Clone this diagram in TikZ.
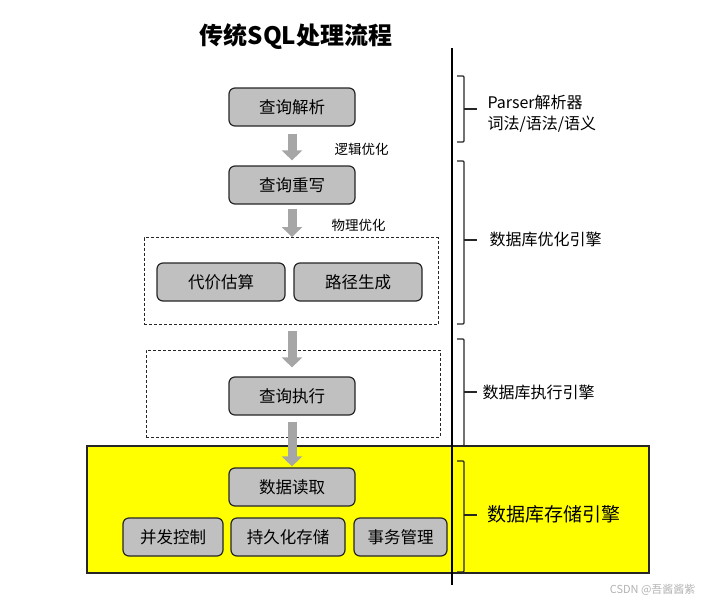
\documentclass[tikz,border=0pt]{standalone}
\usepackage{fontspec}
\setmainfont{Noto Sans CJK SC}
\definecolor{boxgray}{RGB}{192,192,192}
\definecolor{arrgray}{RGB}{166,166,166}
\definecolor{hilite}{RGB}{255,255,0}
\usetikzlibrary{arrows.meta}
\tikzset{
  stage/.style={draw=black!85,line width=1.2pt,rounded corners=6pt,fill=boxgray,
                minimum height=38pt,inner sep=2pt,font=\fontsize{16.5}{19}\selectfont},
  wide/.style={stage,minimum width=126pt},
  group/.style={draw=black!85,dash pattern=on 3pt off 2pt,line width=0.9pt,inner sep=0pt},
  bigarr/.style={-{Triangle[width=20pt,length=10pt]},line width=9pt,draw=arrgray},
  note/.style={font=\fontsize{13.5}{15}\selectfont,anchor=west},
  side/.style={font=\fontsize{16}{21}\selectfont,anchor=west,align=left},
  brk/.style={line width=1.2pt,draw=black!85,rounded corners=1pt},
}
% bracket: top, bottom, tick height
\newcommand{\sidebrace}[3]{%
  \draw[brk] (457,#1) -- (464,#1) -- (464,#2) -- (457,#2);
  \draw[brk] (464,#3) -- (477,#3);}

\begin{document}
\begin{tikzpicture}[x=1pt,y=-1pt]
    \useasboundingbox (0,0) rectangle (707,603);
    \node[font=\fontsize{24}{28}\selectfont\bfseries] (title) at (296,37) {传统SQL处理流程};
    % storage area
    \node[draw=black!85,line width=1.2pt,fill=hilite,minimum width=562pt,minimum height=127pt,
          inner sep=0pt] (store) at (368,509.5) {};
    % dashed groups
    \node[group,minimum width=294pt,minimum height=87pt] (opt) at (291,281) {};
    \node[group,minimum width=294pt,minimum height=87pt] (run) at (293,393.5) {};
    % stages
    \node[wide] (parse) at (292,107) {查询解析};
    \node[wide] (rewrite) at (292,185) {查询重写};
    \node[stage,minimum width=128pt] (cost) at (221,282) {代价估算};
    \node[stage,minimum width=128pt] (path) at (358,282) {路径生成};
    \node[wide] (exec) at (292,396) {查询执行};
    \node[wide] (read) at (292,487) {数据读取};
    \node[stage,minimum width=100pt] (conc) at (173,537) {并发控制};
    \node[stage,minimum width=114pt] (persist) at (288,537) {持久化存储};
    \node[stage,minimum width=93pt] (trans) at (400.5,537) {事务管理};
    % flow
    \draw[bigarr,shorten <=7pt,shorten >=5pt] (parse) -- (rewrite);
    \draw[bigarr,shorten <=4pt] (rewrite) -- (opt.north -| rewrite);
    \draw[bigarr,shorten <=6pt,shorten >=9pt] (opt.south -| exec) -- (exec);
    \draw[bigarr,shorten <=6pt,shorten >=1pt] (exec) -- (read);
    \node[note] (logic) at (331,149) {逻辑优化};
    \node[note] (phys) at (328,225) {物理优化};
    % engines
    \draw[line width=1.2pt] (452,48) -- (452,585);
    \sidebrace{76}{142}{109}
    \sidebrace{161}{324}{240}
    \sidebrace{339}{446}{392}
    \sidebrace{461}{572}{515}
    \node[side] (parser) at (484,114) {Parser解析器\\词法/语法/语义};
    \node[side] (optimizer) at (486,239) {数据库优化引擎};
    \node[side] (executor) at (479,392) {数据库执行引擎};
    \node[side,font=\fontsize{19}{23}\selectfont] (storage) at (484,514) {数据库存储引擎};
    \node[anchor=east,text=black!30,font=\fontsize{11}{13}\selectfont] (mark) at (699,590) {CSDN @吾酱酱紫};
\end{tikzpicture}
\end{document}
